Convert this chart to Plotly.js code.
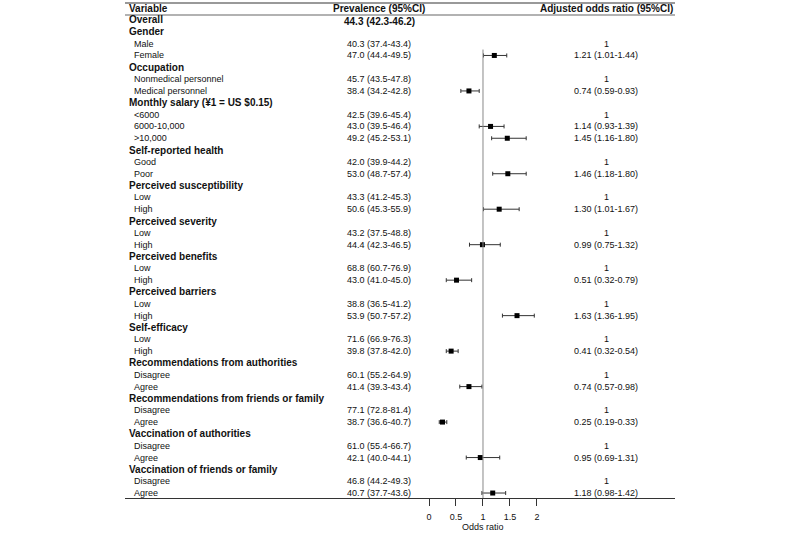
<!DOCTYPE html>
<html>
<head>
<meta charset="utf-8">
<script src="https://cdn.plot.ly/plotly-3.0.1.min.js"></script>
<style>
  html, body { margin: 0; padding: 0; background: #fff; }
  #plot { width: 800px; height: 537px; }
</style>
</head>
<body>
<div id="plot"></div>
<script>
// Rows of the table, top to bottom (level 0 = bold heading, 1 = sub level)
var variables = [
    'Overall',
    'Gender', 'Male', 'Female',
    'Occupation', 'Nonmedical personnel', 'Medical personnel',
    'Monthly salary (¥1 = US $0.15)', '<6000', '6000-10,000', '>10,000',
    'Self-reported health', 'Good', 'Poor',
    'Perceived susceptibility', 'Low', 'High',
    'Perceived severity', 'Low', 'High',
    'Perceived benefits', 'Low', 'High',
    'Perceived barriers', 'Low', 'High',
    'Self-efficacy', 'Low', 'High',
    'Recommendations from authorities', 'Disagree', 'Agree',
    'Recommendations from friends or family', 'Disagree', 'Agree',
    'Vaccination of authorities', 'Disagree', 'Agree',
    'Vaccination of friends or family', 'Disagree', 'Agree'
];
var level = [
    0,
    0, 1, 1,
    0, 1, 1,
    0, 1, 1, 1,
    0, 1, 1,
    0, 1, 1,
    0, 1, 1,
    0, 1, 1,
    0, 1, 1,
    0, 1, 1,
    0, 1, 1,
    0, 1, 1,
    0, 1, 1,
    0, 1, 1
];
var prevalence = [
    '44.3 (42.3-46.2)',
    '', '40.3 (37.4-43.4)', '47.0 (44.4-49.5)',
    '', '45.7 (43.5-47.8)', '38.4 (34.2-42.8)',
    '', '42.5 (39.6-45.4)', '43.0 (39.5-46.4)', '49.2 (45.2-53.1)',
    '', '42.0 (39.9-44.2)', '53.0 (48.7-57.4)',
    '', '43.3 (41.2-45.3)', '50.6 (45.3-55.9)',
    '', '43.2 (37.5-48.8)', '44.4 (42.3-46.5)',
    '', '68.8 (60.7-76.9)', '43.0 (41.0-45.0)',
    '', '38.8 (36.5-41.2)', '53.9 (50.7-57.2)',
    '', '71.6 (66.9-76.3)', '39.8 (37.8-42.0)',
    '', '60.1 (55.2-64.9)', '41.4 (39.3-43.4)',
    '', '77.1 (72.8-81.4)', '38.7 (36.6-40.7)',
    '', '61.0 (55.4-66.7)', '42.1 (40.0-44.1)',
    '', '46.8 (44.2-49.3)', '40.7 (37.7-43.6)'
];
var orText = [
    '',
    '', '1', '1.21 (1.01-1.44)',
    '', '1', '0.74 (0.59-0.93)',
    '', '1', '1.14 (0.93-1.39)', '1.45 (1.16-1.80)',
    '', '1', '1.46 (1.18-1.80)',
    '', '1', '1.30 (1.01-1.67)',
    '', '1', '0.99 (0.75-1.32)',
    '', '1', '0.51 (0.32-0.79)',
    '', '1', '1.63 (1.36-1.95)',
    '', '1', '0.41 (0.32-0.54)',
    '', '1', '0.74 (0.57-0.98)',
    '', '1', '0.25 (0.19-0.33)',
    '', '1', '0.95 (0.69-1.31)',
    '', '1', '1.18 (0.98-1.42)'
];
var orEst = [
    null,
    null, null, 1.21,
    null, null, 0.74,
    null, null, 1.14, 1.45,
    null, null, 1.46,
    null, null, 1.30,
    null, null, 0.99,
    null, null, 0.51,
    null, null, 1.63,
    null, null, 0.41,
    null, null, 0.74,
    null, null, 0.25,
    null, null, 0.95,
    null, null, 1.18
];
var orLow = [
    null,
    null, null, 1.01,
    null, null, 0.59,
    null, null, 0.93, 1.16,
    null, null, 1.18,
    null, null, 1.01,
    null, null, 0.75,
    null, null, 0.32,
    null, null, 1.36,
    null, null, 0.32,
    null, null, 0.57,
    null, null, 0.19,
    null, null, 0.69,
    null, null, 0.98
];
var orHigh = [
    null,
    null, null, 1.44,
    null, null, 0.93,
    null, null, 1.39, 1.80,
    null, null, 1.80,
    null, null, 1.67,
    null, null, 1.32,
    null, null, 0.79,
    null, null, 1.95,
    null, null, 0.54,
    null, null, 0.98,
    null, null, 0.33,
    null, null, 1.31,
    null, null, 1.42
];
var headers = ['Variable', 'Prevalence (95%CI)', 'Adjusted odds ratio (95%CI)'];
var oddsTicks = [0, 0.5, 1, 1.5, 2];
var axisTitle = 'Odds ratio';

var FONT = 'Arial, "Liberation Sans", sans-serif';

// row numbers: header = 0, Overall = 1 ...
var rowY = variables.map(function (v, i) { return i + 1; });

// x positions of the text columns (paper units, plot spans 125..675 px)
function px(p) { return (p - 125) / 550; }

var xs = [], ys = [], plus = [], minus = [];
for (var i = 0; i < variables.length; i++) {
    if (orEst[i] === null) continue;
    xs.push(orEst[i]);
    ys.push(rowY[i]);
    plus.push(orHigh[i] - orEst[i]);
    minus.push(orEst[i] - orLow[i]);
}

var trace = {
    x: xs,
    y: ys,
    type: 'scatter',
    mode: 'markers',
    marker: { symbol: 'square', size: 5, color: '#000' },
    error_x: {
        type: 'data', symmetric: false, array: plus, arrayminus: minus,
        color: '#333', thickness: 1, width: 2
    },
    hoverinfo: 'x',
    showlegend: false
};

var annotations = [];
annotations.push({ text: '<b>' + headers[0] + '</b>', x: px(127), y: 0, xanchor: 'left' });
annotations.push({ text: '<b>' + headers[1] + '</b>', x: px(379), y: 0, xanchor: 'center' });
annotations.push({ text: '<b>' + headers[2] + '</b>', x: px(606), y: 0, xanchor: 'center' });

for (var j = 0; j < variables.length; j++) {
    var bold = level[j] === 0;
    annotations.push({
        text: bold ? '<b>' + variables[j] + '</b>' : variables[j],
        x: bold ? px(127) : px(132), y: rowY[j], xanchor: 'left',
        font: { size: bold ? 10 : 9 }
    });
    if (prevalence[j]) {
        annotations.push({
            text: bold ? '<b>' + prevalence[j] + '</b>' : prevalence[j],
            x: px(379), y: rowY[j] + (bold ? 0.1 : 0), xanchor: 'center',
            font: { size: bold ? 10 : 9 }
        });
    }
    if (orText[j]) {
        annotations.push({
            text: orText[j], x: px(606), y: rowY[j], xanchor: 'center',
            font: { size: 9 }
        });
    }
}
annotations.forEach(function (a) {
    a.xref = 'paper';
    a.yref = 'y';
    a.yanchor = 'middle';
    a.showarrow = false;
    a.font = Object.assign({ family: FONT, size: 10, color: '#111' }, a.font || {});
});

// axis title centred under x = 1, as in the original
annotations.push({
    text: axisTitle, xref: 'x', x: 1, yref: 'paper', y: -29 / 498,
    xanchor: 'center', yanchor: 'middle', showarrow: false,
    font: { family: FONT, size: 9, color: '#111' }
});

var rowTop = -0.69, rowBottom = 41.42;

var layout = {
    width: 800,
    height: 537,
    margin: { l: 125, r: 125, t: 0, b: 39 },
    paper_bgcolor: '#fff',
    plot_bgcolor: '#fff',
    font: { family: FONT, size: 9, color: '#111' },
    xaxis: {
        range: [-5.63, 4.556],
        tickvals: oddsTicks,
        ticktext: oddsTicks.map(String),
        ticks: 'outside',
        ticklen: 7,
        tickcolor: '#333',
        ticklabelstandoff: 3,
        showline: true,
        linecolor: '#333',
        linewidth: 1,
        showgrid: false,
        zeroline: false,
        tickfont: { size: 9, color: '#111' }
    },
    yaxis: {
        range: [rowBottom, rowTop],
        visible: false,
        showgrid: false,
        zeroline: false
    },
    shapes: [
        { type: 'line', xref: 'paper', yref: 'paper', x0: 0, x1: 1, y0: 1 - 3 / 498, y1: 1 - 3 / 498,
          line: { color: '#999', width: 2 } },
        { type: 'line', xref: 'paper', yref: 'paper', x0: 0, x1: 1, y0: 1 - 15 / 498, y1: 1 - 15 / 498,
          line: { color: '#999', width: 1.5 } },
        { type: 'line', xref: 'x', yref: 'y', x0: 1, x1: 1, y0: 3.5, y1: rowBottom,
          line: { color: '#888', width: 1 } }
    ],
    annotations: annotations
};

Plotly.newPlot('plot', [trace], layout, { displayModeBar: false, staticPlot: true });
</script>
</body>
</html>
